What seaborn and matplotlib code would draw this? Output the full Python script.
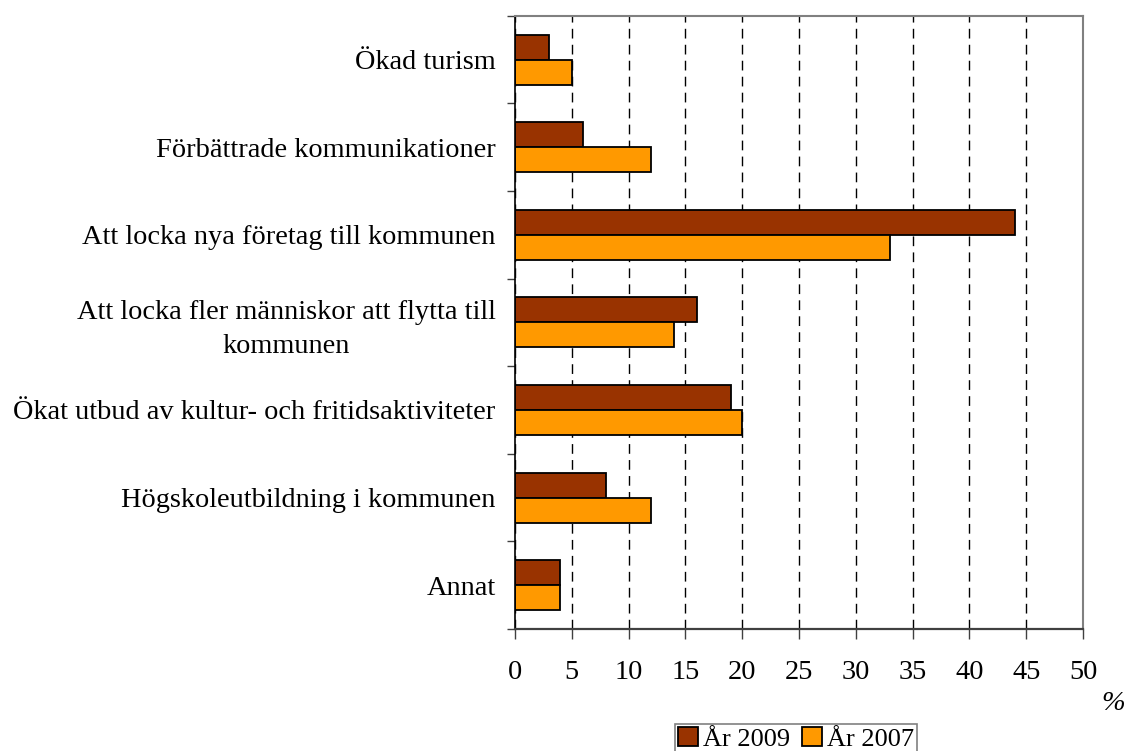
import matplotlib
matplotlib.use('Agg')
import matplotlib.pyplot as plt
import pandas as pd
import seaborn as sns
from matplotlib.ticker import FixedLocator

kategorier = ['Ökad turism',
              'Förbättrade kommunikationer',
              'Att locka nya företag till kommunen',
              'Att locka fler människor att flytta till\nkommunen',
              'Ökat utbud av kultur- och fritidsaktiviteter',
              'Högskoleutbildning i kommunen',
              'Annat']
ar_2009 = [3, 6, 44, 16, 19, 8, 4]
ar_2007 = [5, 12, 33, 14, 20, 12, 4]
serier = ['År 2009', 'År 2007']
farger = ['#993300', '#FF9900']

df = pd.DataFrame({
    'kategori': kategorier * 2,
    'procent': ar_2009 + ar_2007,
    'ar': [serier[0]] * len(kategorier) + [serier[1]] * len(kategorier),
})

sns.set_style('white')
plt.rcParams['font.family'] = ['Liberation Serif', 'DejaVu Serif']
plt.rcParams['font.size'] = 20.4
plt.rcParams['text.color'] = 'black'
plt.rcParams['xtick.labelcolor'] = 'black'
plt.rcParams['ytick.labelcolor'] = 'black'

fig = plt.figure(figsize=(11.28, 7.51), dpi=100)
ax = fig.add_axes([0.4566, 0.1625, 0.5036, 0.8165])

sns.barplot(data=df, y='kategori', x='procent', hue='ar', order=kategorier,
            hue_order=serier, palette=farger, width=0.57, gap=0,
            edgecolor='black', linewidth=1.3, saturation=1, ax=ax)

ax.set_xlim(0, 50)
ax.set_ylim(len(kategorier) - 0.5, -0.5)
ax.set_xticks(range(0, 51, 5))
ax.set_xlabel('')
ax.set_ylabel('')
ax.set_axisbelow(True)
ax.xaxis.grid(True, linestyle=(0, (7, 4.5)), color='black', linewidth=1.0)
ax.yaxis.grid(False)

ax.yaxis.set_minor_locator(FixedLocator([i - 0.5 for i in range(len(kategorier) + 1)]))
ax.tick_params(axis='y', which='major', length=0, pad=14)
ax.tick_params(axis='y', which='minor', length=6, width=1, color='#404040', left=True)
ax.tick_params(axis='x', which='major', length=7, width=1, color='#404040', bottom=True, pad=15)
for t in ax.get_yticklabels():
    t.set_multialignment('center')
    t.set_linespacing(1.45)

for s in ['top', 'right']:
    ax.spines[s].set_color('#808080')
    ax.spines[s].set_linewidth(1.5)
ax.spines['left'].set_color('black')
ax.spines['left'].set_linewidth(1.2)
ax.spines['bottom'].set_color('#404040')
ax.spines['bottom'].set_linewidth(1.6)

handles, labels = ax.get_legend_handles_labels()
ax.legend_.remove()
leg = fig.legend(handles, labels, loc='upper center', bbox_to_anchor=(796 / 1128, 1 - 724 / 751),
                 ncol=2, frameon=True, fancybox=False, framealpha=1, edgecolor='#808080',
                 fontsize=19, handlelength=0.75, handleheight=0.75, handletextpad=0.2,
                 columnspacing=0.45, borderpad=0.1, borderaxespad=0)
leg.get_frame().set_linewidth(1.2)

fig.text(1113 / 1128, 1 - 703 / 751, '%', style='italic', ha='center', va='center')

fig.savefig('out.png', dpi=100)
